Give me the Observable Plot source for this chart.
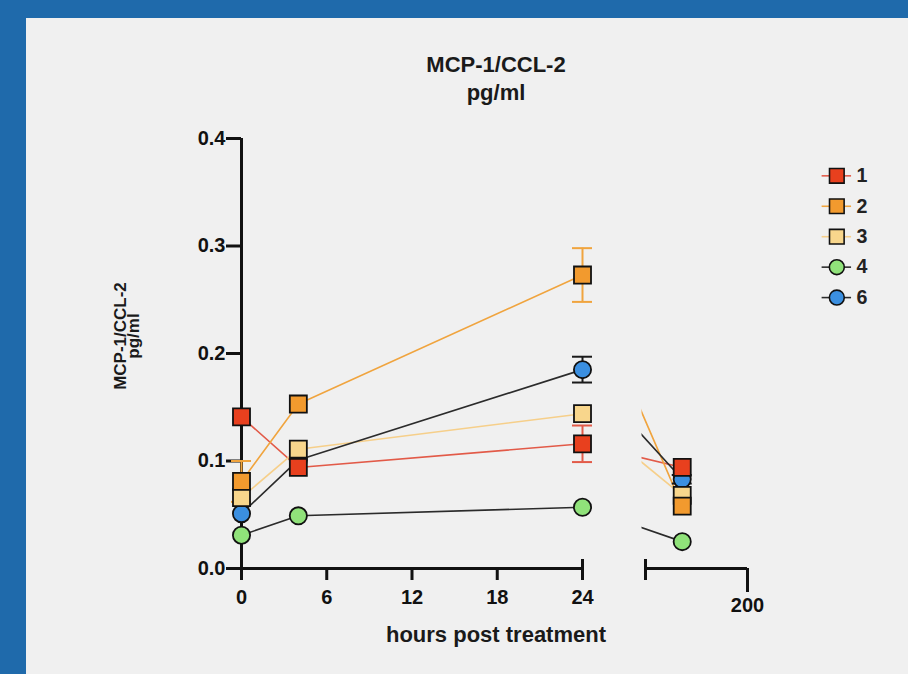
<!DOCTYPE html>
<html>
<head>
<meta charset="utf-8">
<script src="https://cdn.jsdelivr.net/npm/d3@7"></script>
<script src="https://cdn.jsdelivr.net/npm/@observablehq/plot@0.6"></script>
<style>
html, body { margin: 0; padding: 0; width: 908px; height: 674px; overflow: hidden; background: #1f6aab; }
#panel { position: absolute; left: 26px; top: 18px; width: 882px; height: 656px; background: #f0f0f0; }
.t { position: absolute; font-family: "Liberation Sans", Arial, sans-serif; font-weight: bold; color: #1a1a1a; text-align: center; white-space: nowrap; }
#chart { position: absolute; left: 0; top: 0; }
#legend { position: absolute; left: 800px; top: 140px; }
</style>
</head>
<body>
<div id="panel"></div>
<div class="t" style="left:396px; top:51px; width:200px; font-size:22px; line-height:28px;">MCP-1/CCL-2<br>pg/ml</div>
<div class="t" style="left:47px; top:323px; width:160px; height:26px; font-size:17px; line-height:13px; transform: rotate(-90deg); transform-origin: 50% 50%;">MCP-1/CCL-2<br>pg/ml</div>
<div class="t" style="left:346px; top:624px; width:300px; font-size:22px; line-height:22px;">hours post treatment</div>
<div id="chart"></div>
<div id="legend"></div>
<script>
// ---- data ----
const times = [0, 4, 24, 168];
const seriesNames = ["1", "2", "3", "4", "6"];
const s1 = [0.141, 0.094, 0.116, 0.094];
const s2 = [0.081, 0.153, 0.273, 0.058];
const s3 = [0.066, 0.111, 0.144, 0.068];
const s4 = [0.031, 0.049, 0.057, 0.025];
const s6 = [0.051, 0.101, 0.185, 0.083];
const e1 = [0, 0, 0.017, 0];
const e2 = [0.019, 0, 0.025, 0];
const e3 = [0, 0, 0, 0];
const e4 = [0, 0, 0, 0];
const e6 = [0, 0, 0.012, 0.004];
const yTicks = [0, 0.1, 0.2, 0.3, 0.4];
const xTicks = [0, 6, 12, 18, 24];
const xTicksLate = [200];

// ---- styles ----
const fillColors = ["#e8401e", "#f29a2e", "#f8d68c", "#90e27a", "#3b8fe0"];
const lineColors = ["#e25a48", "#f0a43e", "#f6cf8a", "#2b2b2b", "#2b2b2b"];
const errColors = ["#e25a48", "#f0a43e", "#f0c27a", "#1a1a1a", "#1a1a1a"];
const shapes = ["square", "square", "square", "circle", "circle"];

const values = [s1, s2, s3, s4, s6];
const errs = [e1, e2, e3, e4, e6];
const rows = seriesNames.flatMap((name, k) =>
  times.map((t, i) => ({series: name, k, t, v: values[k][i], e: errs[k][i]})));
const early = rows.filter(d => d.t <= 24);
const late = rows.filter(d => d.t >= 24);
const errRows = rows.filter(d => d.e > 0);
const drawOrder = rows.slice().sort((a, b) => b.k - a.k);
const circles = drawOrder.filter(d => shapes[d.k] === "circle");
const squares = drawOrder.filter(d => shapes[d.k] === "square");

// axis break: x domain pieces
const xDomain = [0, 24, 150, 200];
const gapEnd = 142; // where the connecting lines reappear after the break

function clipLeftOf(xv) {
  return (index, scales, values, dimensions, context, next) => {
    const g = next(index, scales, values, dimensions, context);
    const ns = "http://www.w3.org/2000/svg";
    const doc = context.document;
    const wrap = doc.createElementNS(ns, "g");
    const cp = doc.createElementNS(ns, "clipPath");
    const id = "gapclip" + Math.floor(Math.random() * 1e9);
    cp.setAttribute("id", id);
    const r = doc.createElementNS(ns, "rect");
    const x0 = scales.x(xv);
    r.setAttribute("x", x0);
    r.setAttribute("y", 0);
    r.setAttribute("width", dimensions.width - x0);
    r.setAttribute("height", dimensions.height);
    cp.appendChild(r);
    wrap.appendChild(cp);
    g.setAttribute("clip-path", `url(#${id})`);
    wrap.appendChild(g);
    return wrap;
  };
}

const font = {fontFamily: "'Liberation Sans', Arial, sans-serif", fontSize: "20px", fontWeight: "bold", color: "#111", background: "transparent", overflow: "visible"};

const chart = Plot.plot({
  width: 908, height: 674,
  marginLeft: 241, marginRight: 161, marginTop: 138, marginBottom: 106,
  x: {type: "linear", domain: xDomain, range: [241, 582, 645, 747]},
  y: {type: "linear", domain: [0, 0.4], range: [568, 138]},
  color: {type: "identity"},
  style: font,
  marks: [
    // axes
    Plot.ruleX([0], {y1: 0, y2: 0.4, strokeWidth: 3, stroke: "#111"}),
    Plot.ruleY([0], {x1: 0, x2: 24, strokeWidth: 3, stroke: "#111"}),
    Plot.ruleY([0], {x1: 150, x2: 200, strokeWidth: 3, stroke: "#111"}),
    Plot.axisY(yTicks, {tickSize: 15, tickPadding: 1, strokeWidth: 3, tickFormat: d3.format(".1f"), label: null}),
    Plot.axisX(xTicks, {tickSize: 12, tickPadding: 9, strokeWidth: 3, label: null}),
    Plot.ruleX([24, 150], {y1: 0, y2: 0, insetTop: -9, insetBottom: -12, strokeWidth: 3, stroke: "#111"}),
    Plot.axisX(xTicksLate, {tickSize: 24, tickPadding: 5, strokeWidth: 3, label: null}),
    // connecting lines
    Plot.line(early, {x: "t", y: "v", z: "series", stroke: d => lineColors[d.k], strokeWidth: 1.6}),
    Plot.line(late, {x: "t", y: "v", z: "series", stroke: d => lineColors[d.k], strokeWidth: 1.6, render: clipLeftOf(gapEnd)}),
    // error bars
    Plot.ruleX(errRows, {x: "t", y1: d => d.v - d.e, y2: d => d.v + d.e, stroke: d => errColors[d.k], strokeWidth: 2}),
    Plot.ruleY(errRows, {y: d => d.v + d.e, x1: "t", x2: "t", insetLeft: -10, insetRight: -10, stroke: d => errColors[d.k], strokeWidth: 2}),
    Plot.ruleY(errRows, {y: d => d.v - d.e, x1: "t", x2: "t", insetLeft: -10, insetRight: -10, stroke: d => errColors[d.k], strokeWidth: 2}),
    // markers
    Plot.dot(circles, {x: "t", y: "v", r: 8.6, symbol: "circle", fill: d => fillColors[d.k], stroke: "#111", strokeWidth: 1.8}),
    Plot.dot(squares, {x: "t", y: "v", r: 9.6, symbol: "square", fill: d => fillColors[d.k], stroke: "#111", strokeWidth: 1.8})
  ]
});
document.getElementById("chart").appendChild(chart);

const legendRows = seriesNames.map((name, k) => ({series: name, k}));
const legend = Plot.plot({
  width: 110, height: 200, margin: 0,
  x: {type: "point", domain: ["sym", "lab"], range: [27, 67], axis: null},
  y: {type: "point", domain: seriesNames, range: [18, 177], axis: null},
  color: {type: "identity"},
  style: font,
  marks: [
    Plot.ruleY(legendRows, {y: "series", x1: () => "sym", x2: () => "sym", insetLeft: -15, insetRight: -15, stroke: d => lineColors[d.k], strokeWidth: 1.6}),
    Plot.dot(legendRows.filter(d => shapes[d.k] === "circle"), {x: () => "sym", y: "series", r: 7.6, symbol: "circle", fill: d => fillColors[d.k], stroke: "#111", strokeWidth: 1.6}),
    Plot.dot(legendRows.filter(d => shapes[d.k] === "square"), {x: () => "sym", y: "series", r: 8.4, symbol: "square", fill: d => fillColors[d.k], stroke: "#111", strokeWidth: 1.6}),
    Plot.text(legendRows, {x: () => "lab", y: "series", text: "series", textAnchor: "start", fill: "#222"})
  ]
});
document.getElementById("legend").appendChild(legend);
</script>
</body>
</html>
